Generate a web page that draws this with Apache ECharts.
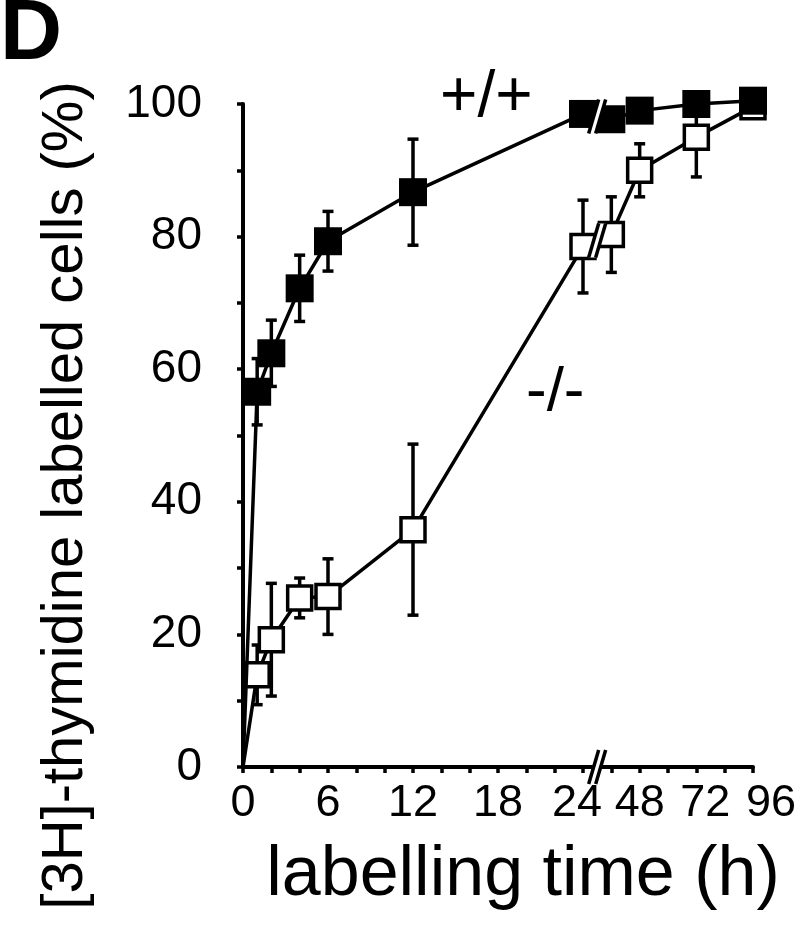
<!DOCTYPE html>
<html>
<head>
<meta charset="utf-8">
<title>3H-thymidine labelling</title>
<script src="https://cdn.jsdelivr.net/npm/echarts@6/dist/echarts.min.js"></script>
<style>
  html, body { margin: 0; padding: 0; background: #fff; }
  #chart { width: 800px; height: 931px; }
</style>
</head>
<body>
<div id="chart"></div>
<script>
// labelling time (h)
const hours = [0, 1, 2, 4, 6, 12, 24, 36, 48, 72, 96];
// +/+ cells, % labelled, and error bar half-widths
const wildType = [0, 56.6, 62.4, 72.2, 79.3, 86.7, 98.5, 97.7, 99.0, 100.0, 100.5];
const wildTypeErr = [0, 5, 5, 5, 4.5, 8, 0, 0, 0, 0, 0];
// -/- cells
const knockout = [0, 13.9, 19.2, 25.5, 25.7, 35.8, 78.5, 80.3, 90.0, 95.0, 99.6];
const knockoutErr = [0, 4.5, 8.5, 3, 5.7, 12.9, 7, 5.7, 4, 6, 0];
// tick labels
const xTickHours = [0, 6, 12, 18, 24, 48, 72, 96];
const yTickValues = [0, 20, 40, 60, 80, 100];

// broken time axis: 0-24 h at full scale, after 24 h squeezed 6x
const BREAK_AT = 24, SQUEEZE = 6, BREAK_MARK_HOUR = 30;
const toAxis = h => h <= BREAK_AT ? h : BREAK_AT + (h - BREAK_AT) / SQUEEZE;
const fromAxis = u => u <= BREAK_AT ? u : BREAK_AT + (u - BREAK_AT) * SQUEEZE;

const FONT = "'Liberation Sans', Arial, Helvetica, sans-serif";
const black = '#000';

function lineData(vals) {
  return hours.map((h, i) => i === 0
    ? { value: [toAxis(h), vals[i]], symbol: 'none' }
    : [toAxis(h), vals[i]]);
}

function errData(vals, errs) {
  const out = [];
  hours.forEach((h, i) => {
    if (errs[i] > 0) out.push([toAxis(h), vals[i] - errs[i], vals[i] + errs[i]]);
  });
  return out;
}

function errorBarItem(params, api) {
  const x = api.value(0);
  const lo = api.coord([x, api.value(1)]);
  const hi = api.coord([x, api.value(2)]);
  const cap = 5.5;
  const style = { stroke: black, lineWidth: 3.5 };
  return {
    type: 'group',
    children: [
      { type: 'line', shape: { x1: lo[0], y1: lo[1], x2: hi[0], y2: hi[1] }, style },
      { type: 'line', shape: { x1: lo[0] - cap, y1: lo[1], x2: lo[0] + cap, y2: lo[1] }, style },
      { type: 'line', shape: { x1: hi[0] - cap, y1: hi[1], x2: hi[0] + cap, y2: hi[1] }, style }
    ]
  };
}

// the "//" marks on the axis and on both curves
function breakItem(params, api) {
  const c = api.coord([api.value(0), api.value(1)]);
  const h = 17, s = 5, g = 3.5;
  const style = { stroke: black, lineWidth: 3.5 };
  return {
    type: 'group',
    children: [
      { type: 'polygon', shape: { points: [[c[0] - g - s, c[1] + h], [c[0] - g + s, c[1] - h], [c[0] + g + s, c[1] - h], [c[0] + g - s, c[1] + h]] }, style: { fill: '#fff' } },
      { type: 'line', shape: { x1: c[0] - g - s, y1: c[1] + h, x2: c[0] - g + s, y2: c[1] - h }, style },
      { type: 'line', shape: { x1: c[0] + g - s, y1: c[1] + h, x2: c[0] + g + s, y2: c[1] - h }, style }
    ]
  };
}

const i24 = hours.indexOf(24), i36 = hours.indexOf(36);
const breakData = [
  [toAxis(BREAK_MARK_HOUR), 0],
  [toAxis(BREAK_MARK_HOUR), (wildType[i24] + wildType[i36]) / 2],
  [toAxis(BREAK_MARK_HOUR), (knockout[i24] + knockout[i36]) / 2]
];

const labelFont = { fontFamily: FONT, fontSize: 45, color: black };
const shifted = { 24: 'l24', 72: 'r72', 96: 'r96' };

const chart = echarts.init(document.getElementById('chart'), null, { renderer: 'canvas' });

chart.setOption({
  backgroundColor: '#fff',
  animation: false,
  grid: { left: 243, right: 47, top: 104, bottom: 164 },
  xAxis: {
    type: 'value',
    min: 0,
    max: toAxis(96),
    interval: 2,
    name: 'labelling time (h)',
    nameLocation: 'middle',
    nameGap: 74,
    nameTextStyle: { fontFamily: FONT, fontSize: 70, color: black, padding: [0, 0, 0, 50] },
    axisLine: { lineStyle: { color: black, width: 4 } },
    axisTick: { length: 6, lineStyle: { color: black, width: 3.5 } },
    splitLine: { show: false },
    axisLabel: {
      margin: 14,
      ...labelFont,
      formatter: u => {
        const h = Math.round(fromAxis(u));
        if (!xTickHours.includes(h)) return '';
        return shifted[h] ? '{' + shifted[h] + '|' + h + '}' : '{n|' + h + '}';
      },
      rich: {
        n: { ...labelFont },
        l24: { ...labelFont, padding: [0, 12, 0, 0] },
        r72: { ...labelFont, padding: [0, 0, 0, 18] },
        r96: { ...labelFont, padding: [0, 0, 0, 36] }
      }
    }
  },
  yAxis: {
    type: 'value',
    min: 0,
    max: 100,
    interval: 10,
    name: '[3H]-thymidine labelled cells (%)',
    nameLocation: 'middle',
    nameGap: 148,
    nameTextStyle: { fontFamily: FONT, fontSize: 58, color: black, padding: [0, 120, 0, 0] },
    axisLine: { show: true, lineStyle: { color: black, width: 4 } },
    axisTick: { show: true, length: 6, lineStyle: { color: black, width: 3.5 } },
    splitLine: { show: false },
    axisLabel: {
      margin: 41,
      ...labelFont,
      fontSize: 46,
      formatter: v => yTickValues.includes(v) ? String(v) : ''
    }
  },
  series: [
    {
      name: '-/- error',
      type: 'custom',
      renderItem: errorBarItem,
      data: errData(knockout, knockoutErr),
      z: 1
    },
    {
      name: '+/+ error',
      type: 'custom',
      renderItem: errorBarItem,
      data: errData(wildType, wildTypeErr),
      z: 1
    },
    {
      name: '-/-',
      type: 'line',
      data: lineData(knockout),
      symbol: 'rect',
      symbolSize: 24,
      showAllSymbol: true,
      clip: false,
      lineStyle: { color: black, width: 3.5 },
      itemStyle: { color: '#fff', borderColor: black, borderWidth: 3.5 },
      z: 2
    },
    {
      name: '+/+',
      type: 'line',
      data: lineData(wildType),
      symbol: 'rect',
      symbolSize: 28,
      showAllSymbol: true,
      clip: false,
      lineStyle: { color: black, width: 3.5 },
      itemStyle: { color: black, borderWidth: 0 },
      z: 3
    },
    {
      name: 'breaks',
      type: 'custom',
      renderItem: breakItem,
      data: breakData,
      z: 10
    }
  ],
  graphic: [
    { type: 'text', left: 0, top: -8, style: { text: 'D', font: 'bold 86px ' + FONT, fill: black } },
    { type: 'text', left: 440, top: 66, style: { text: '+/+', font: '64px ' + FONT, fill: black } },
    { type: 'text', left: 526, top: 362, style: { text: '-/-', font: '62px ' + FONT, fill: black } }
  ]
});
</script>
</body>
</html>
